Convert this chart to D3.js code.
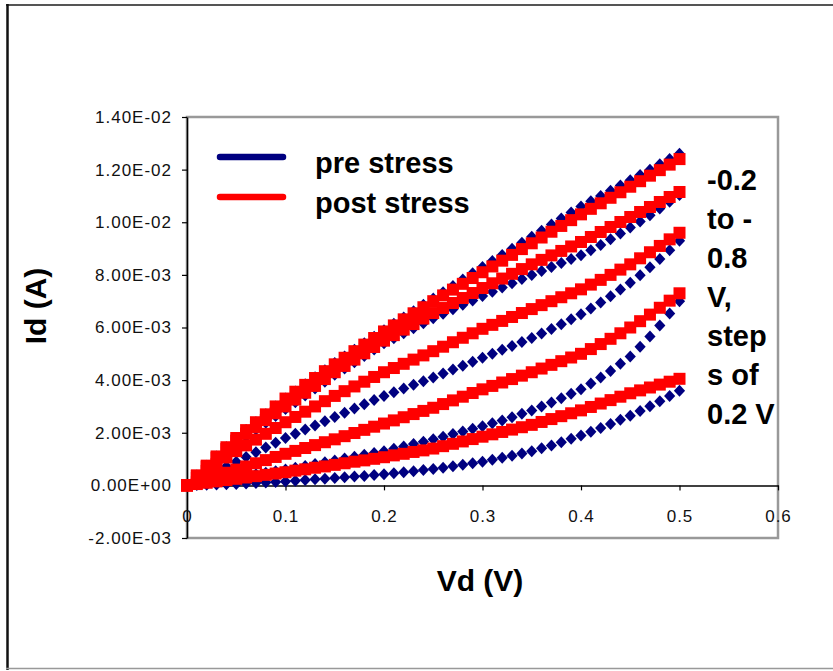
<!DOCTYPE html>
<html>
<head>
<meta charset="utf-8">
<script src="https://cdn.jsdelivr.net/npm/d3@7"></script>
<style>
  html, body { margin: 0; padding: 0; background: #fff; }
  svg { display: block; font-family: "Liberation Sans", Arial, sans-serif; }
</style>
</head>
<body>
<svg id="chart" width="833" height="671"></svg>
<script>
// Drain voltage sweep (V)
const vd = [0, 0.01, 0.02, 0.03, 0.04, 0.05, 0.06, 0.07, 0.08, 0.09, 0.10,
  0.11, 0.12, 0.13, 0.14, 0.15, 0.16, 0.17, 0.18, 0.19, 0.20,
  0.21, 0.22, 0.23, 0.24, 0.25, 0.26, 0.27, 0.28, 0.29, 0.30,
  0.31, 0.32, 0.33, 0.34, 0.35, 0.36, 0.37, 0.38, 0.39, 0.40,
  0.41, 0.42, 0.43, 0.44, 0.45, 0.46, 0.47, 0.48, 0.49, 0.50];

// Drain current, in units of 1E-03 A, one array per gate step
const pre1 = [0, 0.38, 0.75, 1.1, 1.45, 1.8, 2.1, 2.4, 2.7, 3.0, 3.3,
  3.57, 3.84, 4.11, 4.38, 4.65, 4.9, 5.15, 5.4, 5.65, 5.9,
  6.14, 6.38, 6.62, 6.86, 7.1, 7.34, 7.58, 7.82, 8.06, 8.3,
  8.53, 8.76, 8.99, 9.22, 9.45, 9.68, 9.91, 10.14, 10.37, 10.6,
  10.8, 11.0, 11.2, 11.4, 11.6, 11.8, 12.0, 12.2, 12.4, 12.6];
const pre2 = [0, 0.34, 0.67, 0.99, 1.3, 1.6, 1.86, 2.12, 2.38, 2.64, 2.9,
  3.16, 3.42, 3.68, 3.94, 4.2, 4.44, 4.68, 4.92, 5.16, 5.4,
  5.59, 5.78, 5.97, 6.16, 6.35, 6.52, 6.69, 6.86, 7.03, 7.2,
  7.36, 7.52, 7.68, 7.84, 8.0, 8.15, 8.3, 8.45, 8.6, 8.75,
  8.94, 9.14, 9.35, 9.57, 9.8, 10.03, 10.27, 10.52, 10.78, 11.04];
const pre3 = [0, 0.18, 0.36, 0.54, 0.72, 0.9, 1.08, 1.26, 1.44, 1.62, 1.8,
  1.96, 2.12, 2.28, 2.44, 2.6, 2.76, 2.92, 3.08, 3.24, 3.4,
  3.54, 3.68, 3.82, 3.96, 4.1, 4.25, 4.4, 4.55, 4.7, 4.85,
  5.0, 5.15, 5.3, 5.45, 5.6, 5.77, 5.94, 6.12, 6.31, 6.5,
  6.72, 6.95, 7.19, 7.44, 7.7, 7.99, 8.29, 8.6, 8.94, 9.3];
const pre4 = [0, 0.06, 0.12, 0.18, 0.24, 0.3, 0.36, 0.42, 0.48, 0.54, 0.6,
  0.67, 0.74, 0.81, 0.88, 0.95, 1.02, 1.09, 1.16, 1.23, 1.3,
  1.39, 1.48, 1.57, 1.66, 1.75, 1.85, 1.95, 2.05, 2.15, 2.25,
  2.36, 2.47, 2.59, 2.72, 2.85, 3.0, 3.15, 3.31, 3.48, 3.65,
  3.87, 4.1, 4.35, 4.62, 4.9, 5.27, 5.66, 6.08, 6.53, 7.0];
const pre5 = [0, 0.01, 0.02, 0.03, 0.04, 0.05, 0.07, 0.09, 0.11, 0.13, 0.15,
  0.18, 0.2, 0.23, 0.25, 0.28, 0.31, 0.34, 0.36, 0.39, 0.42,
  0.46, 0.5, 0.54, 0.58, 0.62, 0.67, 0.73, 0.78, 0.84, 0.9,
  0.97, 1.05, 1.13, 1.21, 1.3, 1.41, 1.52, 1.64, 1.77, 1.9,
  2.04, 2.18, 2.33, 2.49, 2.65, 2.83, 3.01, 3.2, 3.4, 3.6];

const post1 = [0, 0.38, 0.75, 1.1, 1.45, 1.8, 2.1, 2.4, 2.7, 3.0, 3.3,
  3.56, 3.82, 4.08, 4.34, 4.6, 4.85, 5.1, 5.35, 5.6, 5.85,
  6.08, 6.31, 6.54, 6.77, 7.0, 7.22, 7.44, 7.66, 7.88, 8.1,
  8.32, 8.54, 8.76, 8.98, 9.2, 9.42, 9.64, 9.86, 10.08, 10.3,
  10.51, 10.72, 10.93, 11.14, 11.35, 11.56, 11.77, 11.98, 12.19, 12.4];
const post2 = [0, 0.36, 0.71, 1.05, 1.38, 1.7, 1.96, 2.22, 2.48, 2.74, 3.0,
  3.26, 3.52, 3.78, 4.04, 4.3, 4.54, 4.78, 5.02, 5.26, 5.5,
  5.71, 5.92, 6.13, 6.34, 6.55, 6.74, 6.93, 7.12, 7.31, 7.5,
  7.68, 7.86, 8.04, 8.22, 8.4, 8.57, 8.74, 8.91, 9.08, 9.25,
  9.44, 9.63, 9.82, 10.01, 10.2, 10.39, 10.58, 10.77, 10.96, 11.15];
const post3 = [0, 0.28, 0.55, 0.81, 1.06, 1.3, 1.52, 1.74, 1.96, 2.18, 2.4,
  2.6, 2.8, 3.0, 3.2, 3.4, 3.58, 3.76, 3.94, 4.12, 4.3,
  4.46, 4.62, 4.78, 4.94, 5.1, 5.27, 5.44, 5.61, 5.78, 5.95,
  6.1, 6.25, 6.4, 6.55, 6.7, 6.85, 7.0, 7.15, 7.3, 7.45,
  7.63, 7.81, 8.0, 8.2, 8.4, 8.63, 8.86, 9.1, 9.35, 9.6];
const post4 = [0, 0.12, 0.24, 0.36, 0.48, 0.6, 0.72, 0.84, 0.96, 1.08, 1.2,
  1.31, 1.42, 1.53, 1.64, 1.75, 1.87, 1.99, 2.11, 2.23, 2.35,
  2.47, 2.59, 2.71, 2.83, 2.95, 3.09, 3.23, 3.37, 3.51, 3.65,
  3.78, 3.91, 4.04, 4.17, 4.3, 4.44, 4.58, 4.72, 4.86, 5.0,
  5.18, 5.37, 5.57, 5.78, 6.0, 6.24, 6.49, 6.75, 7.02, 7.3];
const post5 = [0, 0.05, 0.1, 0.15, 0.2, 0.25, 0.3, 0.35, 0.4, 0.45, 0.5,
  0.56, 0.61, 0.67, 0.72, 0.78, 0.84, 0.9, 0.95, 1.01, 1.07,
  1.14, 1.2, 1.27, 1.33, 1.4, 1.49, 1.58, 1.67, 1.76, 1.85,
  1.94, 2.03, 2.12, 2.21, 2.3, 2.41, 2.52, 2.63, 2.74, 2.85,
  2.98, 3.11, 3.24, 3.37, 3.5, 3.61, 3.72, 3.83, 3.94, 4.05];

const preSeries = [pre1, pre2, pre3, pre4, pre5];
const postSeries = [post1, post2, post3, post4, post5];

const seriesNames = ["pre stress", "post stress"];
const seriesColors = ["#000080", "#ff0000"];

const xTicks = [0, 0.1, 0.2, 0.3, 0.4, 0.5, 0.6];
const xTickLabels = ["0", "0.1", "0.2", "0.3", "0.4", "0.5", "0.6"];
const yTicks = [-2, 0, 2, 4, 6, 8, 10, 12, 14];
const yTickLabels = ["-2.00E-03", "0.00E+00", "2.00E-03", "4.00E-03", "6.00E-03",
  "8.00E-03", "1.00E-02", "1.20E-02", "1.40E-02"];

const noteLines = ["-0.2", "to -", "0.8", "V,", "step", "s of", "0.2 V"];

const svg = d3.select("#chart");

// Outer chart frame
svg.append("line").attr("x1", 6).attr("x2", 833).attr("y1", 5).attr("y2", 5)
  .attr("stroke", "#555").attr("stroke-width", 2);
svg.append("line").attr("x1", 7.5).attr("x2", 7.5).attr("y1", 4).attr("y2", 670)
  .attr("stroke", "#111").attr("stroke-width", 2.5);
svg.append("line").attr("x1", 6).attr("x2", 833).attr("y1", 668.5).attr("y2", 668.5)
  .attr("stroke", "#999").attr("stroke-width", 1.5);

const x = d3.scaleLinear().domain([0, 0.6]).range([187, 778]);
const y = d3.scaleLinear().domain([-2, 14]).range([538, 117]);

// Plot area border
svg.append("rect")
  .attr("x", x(0)).attr("y", y(14))
  .attr("width", x(0.6) - x(0)).attr("height", y(-2) - y(14))
  .attr("fill", "none").attr("stroke", "#999").attr("stroke-width", 2.5);

// Y axis
const yAxis = svg.append("g")
  .attr("transform", `translate(${x(0)},0)`)
  .call(d3.axisLeft(y).tickValues(yTicks).tickSize(5).tickSizeOuter(0).tickPadding(10)
    .tickFormat((d, i) => yTickLabels[i]));

// X axis sits on Id = 0
const xAxis = svg.append("g")
  .attr("transform", `translate(0,${y(0)})`)
  .call(d3.axisBottom(x).tickValues(xTicks).tickSize(5).tickSizeOuter(0).tickPadding(20)
    .tickFormat((d, i) => xTickLabels[i]));

[yAxis, xAxis].forEach(g => {
  g.select(".domain").attr("stroke", "#000").attr("stroke-width", 1.5);
  g.selectAll(".tick line").attr("stroke", "#000").attr("stroke-width", 1.2);
  g.selectAll(".tick text")
    .attr("fill", "#111")
    .style("font-family", '"Liberation Sans", Arial, sans-serif')
    .style("font-size", "17px")
    .style("letter-spacing", "1px");
});

// Markers: pre stress diamonds beneath, post stress squares on top
const plot = svg.append("g");
preSeries.forEach(s => {
  plot.append("g").selectAll("path")
    .data(vd.map((v, i) => [v, s[i]]))
    .join("path")
    .attr("transform", d => `translate(${x(d[0])},${y(d[1])})`)
    .attr("d", "M0,-6L5.6,0L0,6L-5.6,0Z")
    .attr("fill", seriesColors[0]);
});
postSeries.forEach(s => {
  plot.append("g").selectAll("rect")
    .data(vd.map((v, i) => [v, s[i]]))
    .join("rect")
    .attr("x", d => x(d[0]) - 6)
    .attr("y", d => y(d[1]) - 6)
    .attr("width", 12).attr("height", 12)
    .attr("fill", seriesColors[1]);
});

// Axis titles
svg.append("text")
  .attr("x", 480).attr("y", 591)
  .attr("text-anchor", "middle")
  .style("font-size", "30px").style("font-weight", "bold")
  .text("Vd (V)");
svg.append("text")
  .attr("transform", "translate(46,306) rotate(-90)")
  .attr("text-anchor", "middle")
  .style("font-size", "30px").style("font-weight", "bold")
  .text("Id (A)");

// Legend
const legend = svg.append("g");
seriesNames.forEach((name, i) => {
  const ly = 157 + i * 40;
  legend.append("line")
    .attr("x1", 220).attr("x2", 283).attr("y1", ly).attr("y2", ly)
    .attr("stroke", seriesColors[i]).attr("stroke-width", 6.5)
    .attr("stroke-linecap", "round");
  legend.append("text")
    .attr("x", 315).attr("y", ly + 16)
    .style("font-size", "29px").style("font-weight", "bold")
    .text(name);
});

// Gate-step note
const note = svg.append("text")
  .style("font-size", "29px").style("font-weight", "bold");
noteLines.forEach((t, i) => {
  note.append("tspan").attr("x", 707).attr("y", 190 + i * 39).text(t);
});
</script>
</body>
</html>
